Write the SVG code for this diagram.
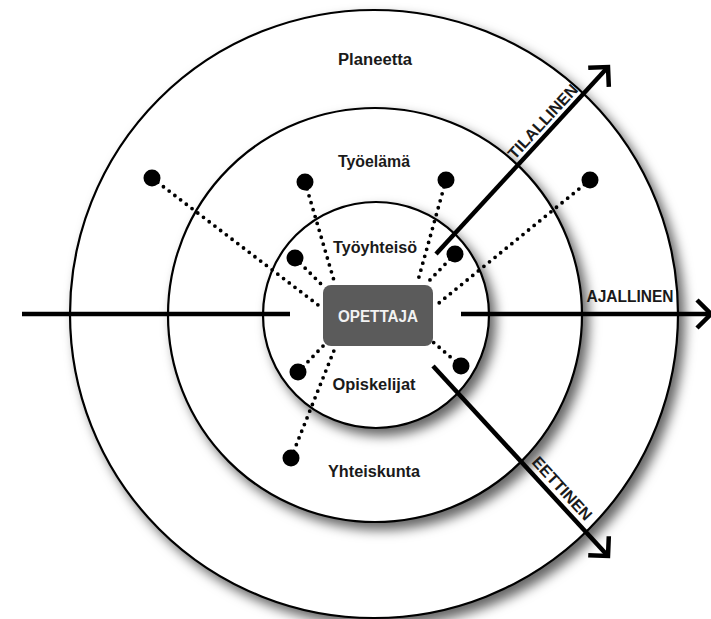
<svg xmlns="http://www.w3.org/2000/svg" width="711" height="619" viewBox="0 0 711 619">
<style>
.ring{fill:#fff;stroke:#000;stroke-width:2.2;filter:url(#shadow)}
.lbl{font-family:"Liberation Sans",Arial,sans-serif;font-weight:bold;font-size:16px;fill:#1a1a1a;text-anchor:middle}
.axis{fill:none;stroke:#000;stroke-width:4.5}
.dotline{fill:none;stroke:#000;stroke-width:3.8;stroke-linecap:round;stroke-dasharray:0 7.2}
.dot{fill:#000}
.box{fill:#5b5b5b}
.boxtxt{font-family:"Liberation Sans",Arial,sans-serif;font-weight:bold;font-size:16px;fill:#f2f2f2;text-anchor:middle}
</style>
<defs>
<filter id="shadow" x="-20%" y="-20%" width="150%" height="150%">
<feDropShadow dx="6" dy="7" stdDeviation="6" flood-color="#000" flood-opacity="0.6"/>
</filter>
<marker id="chev" markerUnits="userSpaceOnUse" markerWidth="40" markerHeight="40" viewBox="-20 -20 40 40" refX="0" refY="0" orient="auto" overflow="visible">
<path d="M-14,-14 L0,0 L-14,14" fill="none" stroke="#000" stroke-width="4.5" stroke-linejoin="miter"/>
</marker>
</defs>
<rect width="711" height="619" fill="#fff"/>

<g id="ring-planeetta">
<circle class="ring" cx="374" cy="314" r="304"/>
<text class="lbl" x="375" y="65" textLength="74" lengthAdjust="spacingAndGlyphs">Planeetta</text>
</g>
<g id="ring-tyoelama">
<circle class="ring" cx="375" cy="315" r="207"/>
<text class="lbl" x="374" y="167" textLength="72" lengthAdjust="spacingAndGlyphs">Työelämä</text>
<text class="lbl" x="374" y="477" textLength="92" lengthAdjust="spacingAndGlyphs">Yhteiskunta</text>
</g>
<g id="ring-tyoyhteiso">
<circle class="ring" cx="376" cy="315" r="113"/>
<text class="lbl" x="375" y="253" textLength="84" lengthAdjust="spacingAndGlyphs">Työyhteisö</text>
<text class="lbl" x="374" y="390" textLength="83" lengthAdjust="spacingAndGlyphs">Opiskelijat</text>
</g>

<g id="connectors">
<line class="dotline" x1="152" y1="178" x2="322" y2="308"/>
<line class="dotline" x1="305" y1="182" x2="335" y2="284"/>
<line class="dotline" x1="295" y1="258" x2="325" y2="288"/>
<line class="dotline" x1="446" y1="180" x2="417" y2="284"/>
<line class="dotline" x1="455" y1="254" x2="426" y2="284"/>
<line class="dotline" x1="590" y1="180" x2="434" y2="307"/>
<line class="dotline" x1="461" y1="366" x2="433" y2="342"/>
<line class="dotline" x1="298" y1="372" x2="325" y2="344"/>
<line class="dotline" x1="291" y1="458" x2="335" y2="348"/>
<line class="axis" x1="22" y1="314" x2="290" y2="314"/>
<line class="axis" x1="461" y1="314" x2="711" y2="314" marker-end="url(#chev)"/>
<line class="axis" x1="436" y1="254" x2="608" y2="67" marker-end="url(#chev)"/>
<line class="axis" x1="433" y1="366" x2="608" y2="556" marker-end="url(#chev)"/>
<text class="lbl" x="630" y="302" textLength="87" lengthAdjust="spacingAndGlyphs">AJALLINEN</text>
<g transform="translate(552,130) rotate(-47.4)">
<text class="lbl" x="0" y="-7" textLength="95" lengthAdjust="spacingAndGlyphs">TILALLINEN</text>
</g>
<g transform="translate(553,497) rotate(47.3)">
<text class="lbl" x="0" y="-7" textLength="80" lengthAdjust="spacingAndGlyphs">EETTINEN</text>
</g>
</g>

<g id="dots">
<circle id="dot-1" class="dot" cx="152" cy="178" r="8.5"/>
<circle id="dot-2" class="dot" cx="305" cy="182" r="8.5"/>
<circle id="dot-3" class="dot" cx="295" cy="258" r="8.5"/>
<circle id="dot-4" class="dot" cx="446" cy="180" r="8.5"/>
<circle id="dot-5" class="dot" cx="455" cy="254" r="8.5"/>
<circle id="dot-6" class="dot" cx="590" cy="180" r="8.5"/>
<circle id="dot-7" class="dot" cx="461" cy="366" r="8.5"/>
<circle id="dot-8" class="dot" cx="298" cy="372" r="8.5"/>
<circle id="dot-9" class="dot" cx="291" cy="458" r="8.5"/>
</g>

<g id="node-opettaja">
<rect class="box" x="323" y="285" width="110" height="61" rx="8"/>
<text class="boxtxt" x="378" y="322" textLength="80" lengthAdjust="spacingAndGlyphs">OPETTAJA</text>
</g>
</svg>
